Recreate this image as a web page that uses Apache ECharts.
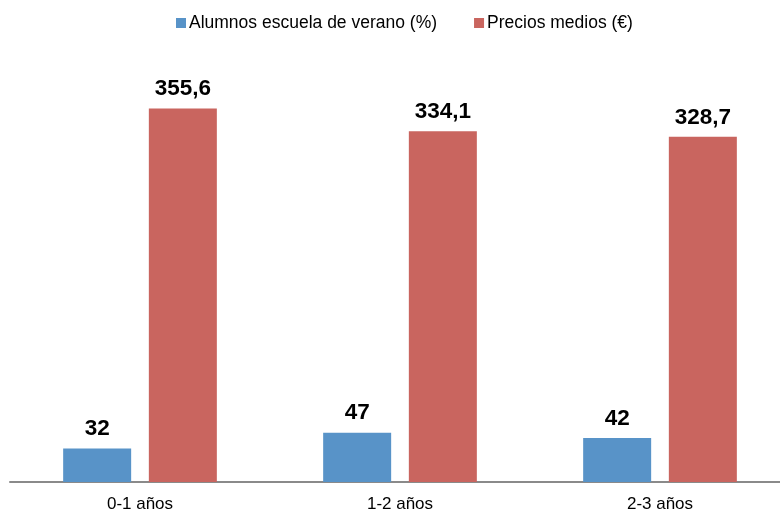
<!DOCTYPE html>
<html>
<head>
<meta charset="utf-8">
<script src="https://cdn.jsdelivr.net/npm/echarts@6/dist/echarts.min.js"></script>
<style>
  html, body { margin: 0; padding: 0; background: #fff; overflow: hidden; }
  /* el eje del original se sale por la derecha del lienzo */
  #chart { width: 790px; height: 513px; }
</style>
</head>
<body>
<div id="chart"></div>
<script>
// datos
var categorias = ['0-1 años', '1-2 años', '2-3 años'];
var alumnos = [32, 47, 42];          // Alumnos escuela de verano (%)
var precios = [355.6, 334.1, 328.7]; // Precios medios (€)
var nombres = ['Alumnos escuela de verano (%)', 'Precios medios (€)'];

var chart = echarts.init(document.getElementById('chart'), null, { renderer: 'canvas' });

function etiqueta(p) {
    // coma decimal como en el original
    return String(p.value).replace('.', ',');
}

var labelStyle = {
    show: true,
    position: 'top',
    distance: 8,
    fontFamily: 'Liberation Sans, Arial, sans-serif',
    fontSize: 22.5,
    fontWeight: 'bold',
    color: '#000',
    formatter: etiqueta
};

var option = {
    animation: false,
    textStyle: { fontFamily: 'Liberation Sans, Arial, sans-serif' },
    legend: {
        top: 14,
        left: 176,
        padding: 0,
        itemWidth: 10,
        itemHeight: 10,
        itemGap: 37,
        icon: 'rect',
        textStyle: { fontSize: 17.5, color: '#000', padding: [0, 0, 0, -2] },
        data: nombres
    },
    grid: { left: 10, right: 0, top: 62, bottom: 29.5, containLabel: false },
    xAxis: {
        type: 'category',
        data: categorias,
        axisTick: { show: false },
        axisLine: { lineStyle: { color: '#8a8a8a', width: 2 } },
        axisLabel: { fontSize: 17, color: '#000', margin: 14 }
    },
    yAxis: {
        type: 'value',
        min: 0,
        max: 400,
        show: false,
        splitLine: { show: false }
    },
    series: [
        {
            name: nombres[0],
            type: 'bar',
            data: alumnos,
            barWidth: 68,
            barGap: '26%',
            itemStyle: { color: '#5893c8' },
            label: labelStyle
        },
        {
            name: nombres[1],
            type: 'bar',
            data: precios,
            barWidth: 68,
            itemStyle: { color: '#c9655f' },
            label: labelStyle
        }
    ]
};

chart.setOption(option);
</script>
</body>
</html>
